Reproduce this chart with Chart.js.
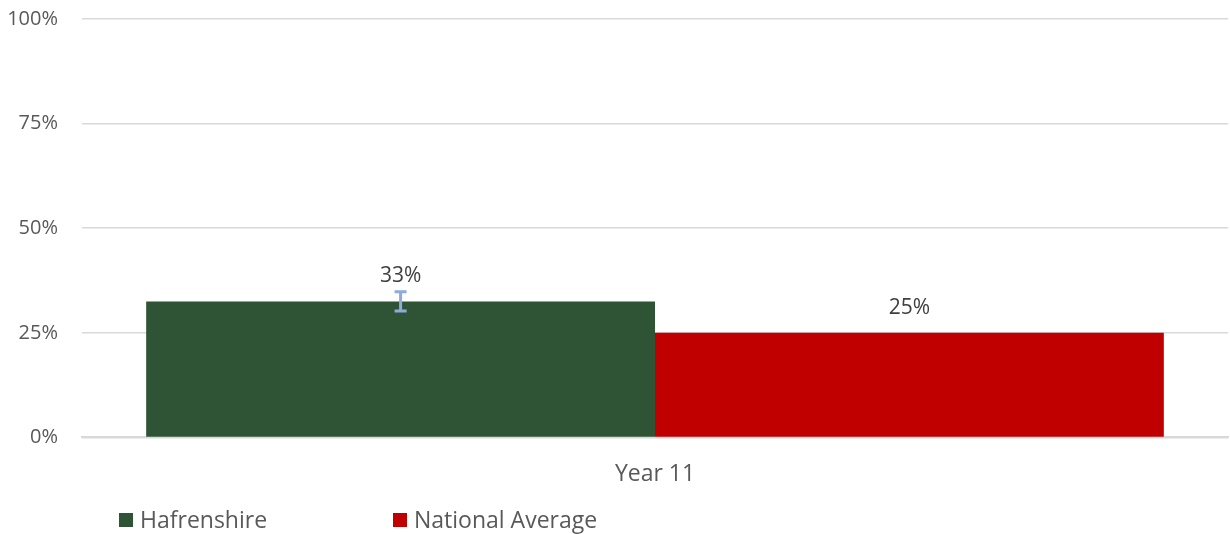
<!DOCTYPE html>
<html>
<head>
<meta charset="utf-8">
<script src="https://cdn.jsdelivr.net/npm/chart.js@4"></script>
<style>
  html, body { margin: 0; padding: 0; background: #fff; }
  #wrap { width: 1230px; height: 534px; }
</style>
</head>
<body>
<div id="wrap"><canvas id="myChart" width="1230" height="534"></canvas></div>
<script>
const categories = ['Year 11'];
const seriesNames = ['Hafrenshire', 'National Average'];
const hafrenshire = [32.5];
const nationalAverage = [25];
const hafrenshireError = [2.3];
const dataLabels = [['33%'], ['25%']];
const yTicks = [0, 25, 50, 75, 100];

const colours = ['#2e5435', '#c00000'];
const errorColour = '#8faadc';
const textColour = '#595959';
const fontFamily = '"Open Sans", "Liberation Sans", sans-serif';

// error bar on the first series
const errorBars = {
  id: 'errorBars',
  afterDatasetsDraw(chart) {
    const c = chart.ctx;
    const y = chart.scales.y;
    const meta = chart.getDatasetMeta(0);
    meta.data.forEach((bar, i) => {
      const v = hafrenshire[i], e = hafrenshireError[i];
      const top = y.getPixelForValue(v + e);
      const bot = y.getPixelForValue(v - e);
      c.save();
      c.strokeStyle = errorColour;
      c.lineWidth = 3;
      c.beginPath();
      c.moveTo(bar.x, top); c.lineTo(bar.x, bot);
      c.moveTo(bar.x - 6, top); c.lineTo(bar.x + 6, top);
      c.moveTo(bar.x - 6, bot); c.lineTo(bar.x + 6, bot);
      c.stroke();
      c.restore();
    });
  }
};

// value labels above the bars
const valueLabels = {
  id: 'valueLabels',
  afterDatasetsDraw(chart) {
    const c = chart.ctx;
    c.save();
    c.font = '21px ' + fontFamily;
    c.fillStyle = '#404040';
    c.textAlign = 'center';
    c.textBaseline = 'middle';
    chart.data.datasets.forEach((ds, d) => {
      chart.getDatasetMeta(d).data.forEach((bar, i) => {
        c.fillText(dataLabels[d][i], bar.x, bar.y - 25);
      });
    });
    c.restore();
  }
};

// legend drawn at the bottom left
const bottomLegend = {
  id: 'bottomLegend',
  afterDraw(chart) {
    const c = chart.ctx;
    const xs = [119, 393];
    const yc = 520;
    c.save();
    c.font = '23px ' + fontFamily;
    c.textBaseline = 'middle';
    chart.data.datasets.forEach((ds, d) => {
      c.fillStyle = colours[d];
      c.fillRect(xs[d], yc - 7, 14, 14);
      c.fillStyle = textColour;
      c.fillText(ds.label, xs[d] + 21, yc + 1);
    });
    c.restore();
  }
};

new Chart(document.getElementById('myChart'), {
  type: 'bar',
  data: {
    labels: categories,
    datasets: [
      { label: seriesNames[0], data: hafrenshire, backgroundColor: colours[0] },
      { label: seriesNames[1], data: nationalAverage, backgroundColor: colours[1] }
    ]
  },
  options: {
    responsive: false,
    animation: false,
    categoryPercentage: 0.888,
    barPercentage: 1,
    layout: { padding: { top: 19, right: 2, bottom: 31, left: 6 } },
    plugins: {
      legend: { display: false },
      tooltip: { enabled: false }
    },
    scales: {
      x: {
        grid: { display: false },
        border: { color: '#d9d9d9', width: 2 },
        ticks: { color: textColour, font: { family: fontFamily, size: 23 }, padding: 15 }
      },
      y: {
        min: 0,
        max: 100,
        afterBuildTicks(axis) { axis.ticks = yTicks.map(v => ({ value: v })); },
        afterFit(axis) {
          axis.width = 76;
          axis.paddingTop = 0;
          axis.paddingBottom = 0;
        },
        grid: { color: '#d9d9d9', lineWidth: 1.5, drawTicks: false },
        border: { display: false },
        ticks: {
          color: textColour,
          font: { family: fontFamily, size: 20 },
          padding: 24,
          callback: v => v + '%'
        }
      }
    }
  },
  plugins: [errorBars, valueLabels, bottomLegend]
});
</script>
</body>
</html>
